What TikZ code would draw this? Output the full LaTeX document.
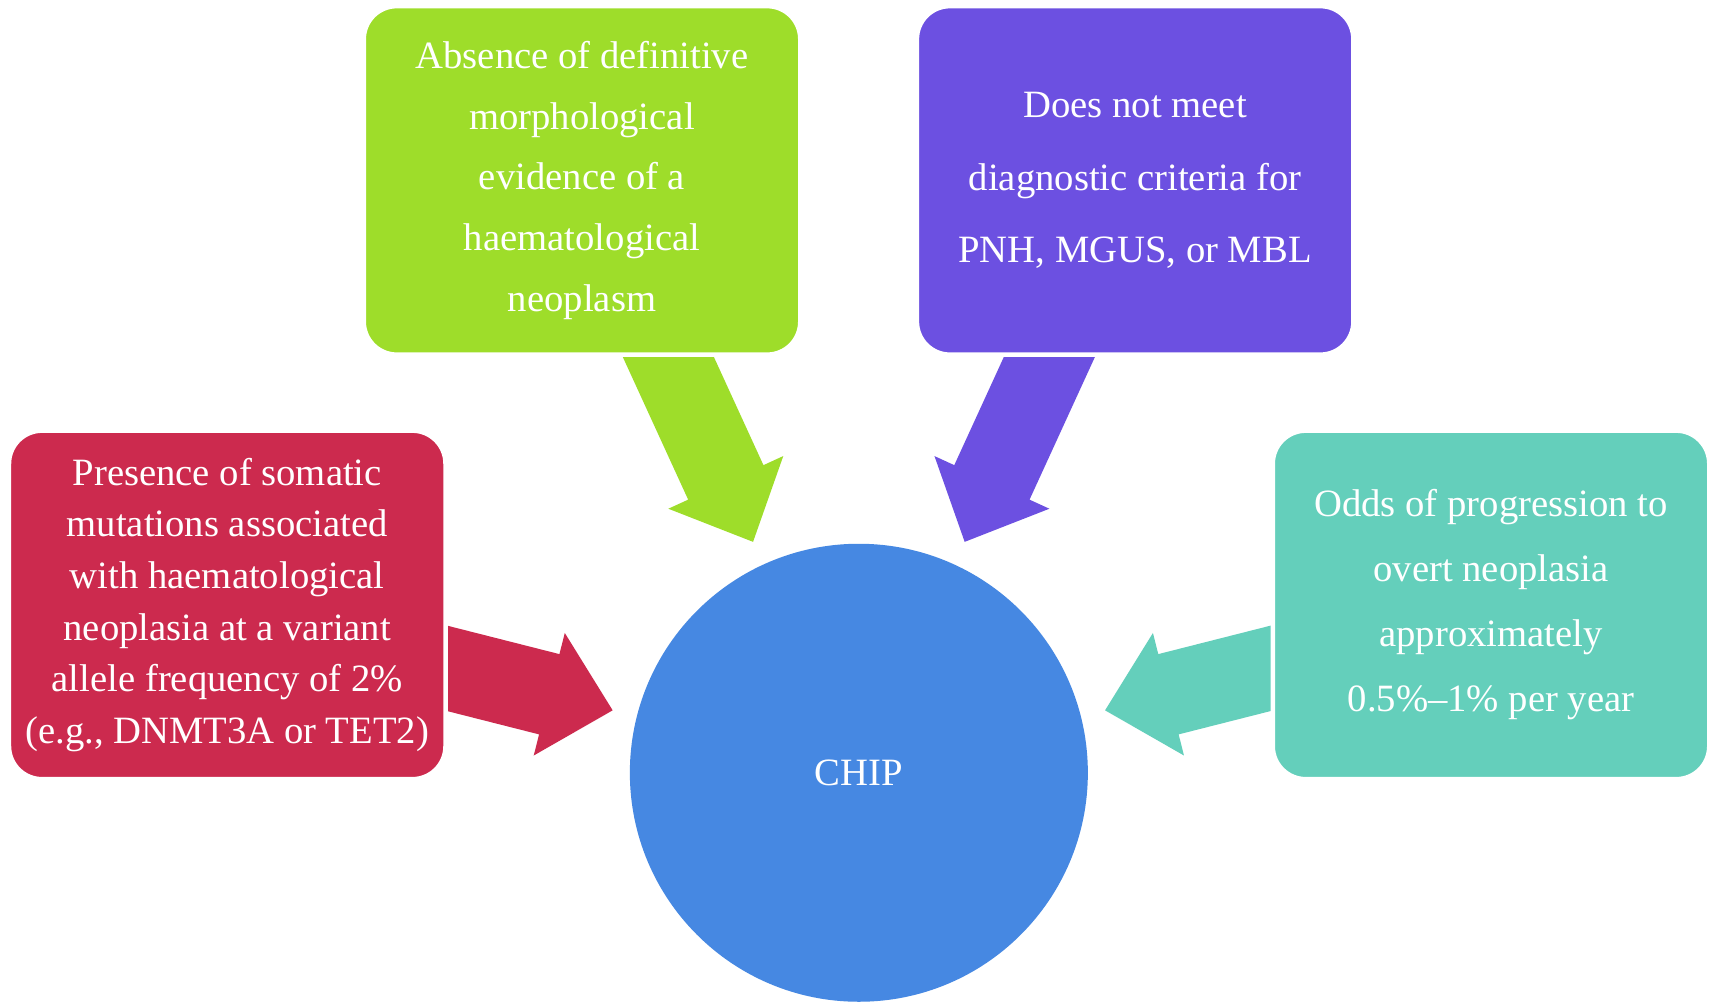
\documentclass[tikz,border=0pt]{standalone}
\usepackage{fontspec}
\setmainfont{Liberation Serif}
\usetikzlibrary{calc,backgrounds}
\definecolor{cred}{HTML}{CC2A4E}
\definecolor{cgreen}{HTML}{9EDD2A}
\definecolor{cpurple}{HTML}{6C50E1}
\definecolor{cteal}{HTML}{64CFBB}
\definecolor{cblue}{HTML}{4688E2}
\newcommand{\blockarrow}[3]{%
  \coordinate (hb) at ($(#2)!6.54mm!(#1)$);
  \fill[#3] ($(#1)!4.14mm!90:(#2)$) -- ($(hb)!4.14mm!90:(#2)$) -- ($(hb)!6.32mm!90:(#2)$) -- (#2)
    -- ($(hb)!6.32mm!-90:(#2)$) -- ($(hb)!4.14mm!-90:(#2)$) -- ($(#1)!4.14mm!-90:(#2)$) -- cycle;
}
\begin{document}
\begin{tikzpicture}[x=0.109mm,y=-0.109mm,
  infobox/.style={rectangle, rounded corners=3.3mm, minimum width=43.65mm, minimum height=34.85mm,
    inner sep=0pt, text=white, align=center, draw=white, line width=0.45mm},
  chipnode/.style={circle, fill=cblue, minimum size=45.8mm, inner sep=0pt, text=white,
    font=\fontsize{11}{14}\selectfont}]
\useasboundingbox (0,0) rectangle (1568,920);

\node[infobox, fill=cred, font=\fontsize{11}{14.7}\selectfont] (red) at (208.5,555)
  {Presence of somatic\\ mutations associated\\ with haematological\\ neoplasia at a variant\\ allele frequency of 2\%\\ (e.g., DNMT3A or TET2)};
\node[infobox, fill=cgreen, font=\fontsize{11}{17.3}\selectfont] (green) at (534,165.5)
  {Absence of definitive\\ morphological\\ evidence of a\\ haematological\\ neoplasm};
\node[infobox, fill=cpurple, font=\fontsize{11}{20.7}\selectfont] (purple) at (1041.5,165.5)
  {Does not meet\\ diagnostic criteria for\\ PNH, MGUS, or MBL};
\node[infobox, fill=cteal, font=\fontsize{11}{18.5}\selectfont] (teal) at (1368,555)
  {Odds of progression to\\ overt neoplasia\\ approximately\\ 0.5\%--1\% per year};
\node[chipnode] (chip) at (788,709) {CHIP};

\coordinate (rs) at (370,603);
\coordinate (gs) at (596,290);
\coordinate (ps) at (980,290);
\coordinate (ts) at (1206,603);

\begin{scope}[on background layer]
  \fill[white] (0,0) rectangle (1568,920);
  \coordinate (rt) at ($(chip.center)!25.4mm!(rs)$);
  \coordinate (gt) at ($(chip.center)!25.4mm!(gs)$);
  \coordinate (pt) at ($(chip.center)!25.4mm!(ps)$);
  \coordinate (tt) at ($(chip.center)!25.4mm!(ts)$);
  \blockarrow{rs}{rt}{cred}
  \blockarrow{gs}{gt}{cgreen}
  \blockarrow{ps}{pt}{cpurple}
  \blockarrow{ts}{tt}{cteal}
\end{scope}
\end{tikzpicture}
\end{document}
